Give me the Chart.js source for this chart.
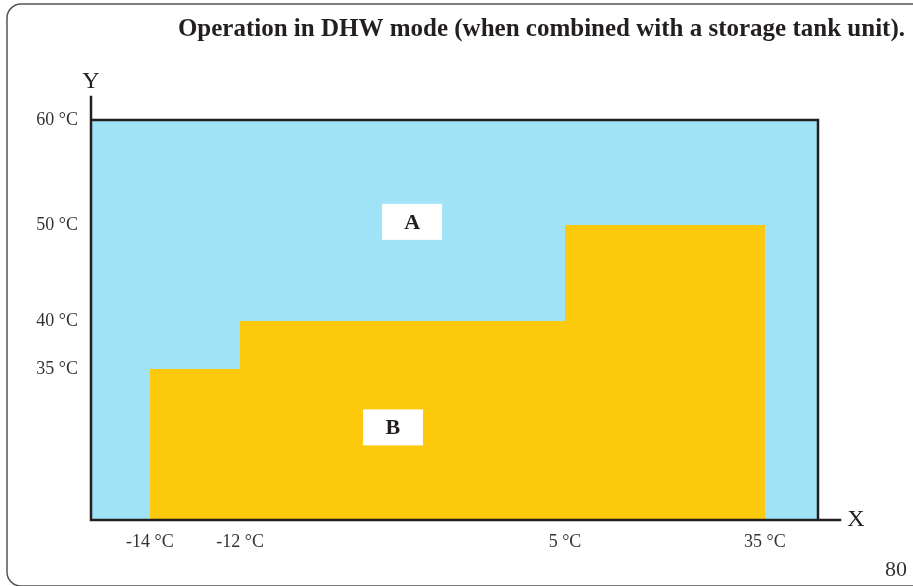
<!DOCTYPE html>
<html>
<head>
<meta charset="utf-8">
<title>Operation in DHW mode</title>
<script src="https://cdn.jsdelivr.net/npm/chart.js@4.4.1/dist/chart.umd.min.js"></script>
<style>
    html, body { margin: 0; padding: 0; background: #fff; }
    #chartDhw { display: block; }
</style>
</head>
<body>
<canvas id="chartDhw" width="913" height="586"></canvas>
<script>
// Dados: temperatura exterior (X) e temperatura da água (Y)
const outdoorTemps = [-14, -12, 5, 35];
const waterTemps = [35, 40, 50, 50];
const xTicks = [-14, -12, 5, 35];
const yTicks = [35, 40, 50, 60];
const xRange = [-16, 40];
const yRange = [20, 60];
// Zona A ocupa todo o campo até 60 °C
const zoneAX = [-16, 40];
const zoneAY = [60, 60];
const zoneNames = ['A', 'B'];

const serif = "'Liberation Serif', 'DejaVu Serif', serif";
const inkColor = '#231f20';

// Escala linear por troços (o eixo do esquema não está à escala)
class PiecewiseScale extends Chart.LinearScale {
    _fraction(value) {
        const stops = this.options.stops;
        if (value <= stops[0][0]) return stops[0][1];
        for (let i = 1; i < stops.length; i++) {
            const [v0, f0] = stops[i - 1];
            const [v1, f1] = stops[i];
            if (value <= v1) return f0 + (value - v0) / (v1 - v0) * (f1 - f0);
        }
        return stops[stops.length - 1][1];
    }
    getPixelForValue(value) {
        const f = this._fraction(value);
        return this.isHorizontal() ? this.left + f * this.width : this.bottom - f * this.height;
    }
    getValueForPixel(pixel) {
        const stops = this.options.stops;
        const f = this.isHorizontal() ? (pixel - this.left) / this.width : (this.bottom - pixel) / this.height;
        for (let i = 1; i < stops.length; i++) {
            const [v0, f0] = stops[i - 1];
            const [v1, f1] = stops[i];
            if (f <= f1) return v0 + (f - f0) / (f1 - f0) * (v1 - v0);
        }
        return stops[stops.length - 1][0];
    }
}
PiecewiseScale.id = 'piecewise';
PiecewiseScale.defaults = Chart.LinearScale.defaults;
Chart.register(PiecewiseScale);

function toPoints(xs, ys) {
    return xs.map((x, i) => ({ x: x, y: ys[i] }));
}

// Moldura, eixos com prolongamento, etiquetas das zonas e número da página
const molduraPlugin = {
    id: 'moldura',
    beforeDraw(chart) {
        const ctx = chart.ctx;
        ctx.save();
        ctx.strokeStyle = '#555';
        ctx.lineWidth = 1.5;
        ctx.beginPath();
        ctx.roundRect(7, 4, 940, 582, 14);
        ctx.stroke();
        ctx.restore();
    },
    afterDatasetsDraw(chart) {
        const { ctx, chartArea: { left, top, right, bottom } } = chart;
        ctx.save();
        ctx.strokeStyle = inkColor;
        ctx.lineWidth = 2.5;
        ctx.lineCap = 'square';
        ctx.beginPath();
        ctx.moveTo(left, top - 23);
        ctx.lineTo(left, bottom);
        ctx.lineTo(right + 22, bottom);
        ctx.moveTo(left, top);
        ctx.lineTo(right, top);
        ctx.lineTo(right, bottom);
        ctx.stroke();
        ctx.restore();
    },
    afterDraw(chart) {
        const { ctx, chartArea: { left, top, right, bottom } } = chart;
        const xs = chart.scales.x;
        const ys = chart.scales.y;
        ctx.save();
        ctx.fillStyle = inkColor;
        ctx.textAlign = 'center';
        ctx.textBaseline = 'middle';
        ctx.font = '24px ' + serif;
        ctx.fillText('Y', left, top - 38);
        ctx.fillText('X', right + 38, bottom);

        // Etiquetas A e B
        const anchors = [[-3, 50.3], [-4, 29.2]];
        zoneNames.forEach((name, i) => {
            const cx = xs.getPixelForValue(anchors[i][0]);
            const cy = ys.getPixelForValue(anchors[i][1]);
            ctx.fillStyle = '#fff';
            ctx.fillRect(cx - 30, cy - 18, 60, 36);
            ctx.fillStyle = inkColor;
            ctx.font = 'bold 22px ' + serif;
            ctx.fillText(name, cx, cy + 1);
        });

        ctx.fillStyle = '#333';
        ctx.font = '22px ' + serif;
        ctx.fillText('80', 896, 570);
        ctx.restore();
    }
};

function initChart() {
    const ctx = document.getElementById('chartDhw').getContext('2d');
    new Chart(ctx, {
        type: 'line',
        data: {
            datasets: [
                {
                    label: 'B',
                    data: toPoints(outdoorTemps, waterTemps),
                    stepped: 'before',
                    borderWidth: 0,
                    borderColor: 'rgba(0,0,0,0)',
                    backgroundColor: '#fdc90d',
                    pointRadius: 0,
                    fill: 'start',
                },
                {
                    label: 'A',
                    data: toPoints(zoneAX, zoneAY),
                    borderWidth: 0,
                    borderColor: 'rgba(0,0,0,0)',
                    backgroundColor: '#a0e3f7',
                    pointRadius: 0,
                    fill: 'start',
                },
            ],
        },
        options: {
            responsive: false,
            animation: false,
            events: [],
            layout: { padding: { top: 0, left: 0, right: 8, bottom: 0 } },
            plugins: {
                legend: { display: false },
                tooltip: { enabled: false },
                title: {
                    display: true,
                    text: 'Operation in DHW mode (when combined with a storage tank unit).',
                    align: 'end',
                    color: inkColor,
                    font: { family: serif, size: 25, weight: 'bold' },
                    padding: { top: 15, bottom: 75 },
                },
            },
            scales: {
                x: {
                    type: 'piecewise',
                    position: 'bottom',
                    min: xRange[0],
                    max: xRange[1],
                    stops: [[-16, 0], [-14, 0.081], [-12, 0.205], [5, 0.652], [35, 0.927], [40, 1]],
                    afterFit(scale) { scale.height = 66; },
                    afterBuildTicks(scale) { scale.ticks = xTicks.map(v => ({ value: v })); },
                    grid: { display: false, drawTicks: false },
                    border: { display: false },
                    ticks: {
                        padding: 11,
                        color: '#333',
                        font: { family: serif, size: 18 },
                        maxRotation: 0,
                        autoSkip: false,
                        callback: (v) => v + ' °C',
                    },
                },
                y: {
                    type: 'piecewise',
                    position: 'left',
                    min: yRange[0],
                    max: yRange[1],
                    stops: [[20, 0], [35, 0.3775], [40, 0.4975], [50, 0.7375], [60, 1]],
                    afterFit(scale) { scale.width = 91; },
                    afterBuildTicks(scale) { scale.ticks = yTicks.map(v => ({ value: v })); },
                    grid: { display: false, drawTicks: false },
                    border: { display: false },
                    ticks: {
                        padding: 13,
                        color: '#333',
                        font: { family: serif, size: 18 },
                        autoSkip: false,
                        callback: (v) => v + ' °C',
                    },
                },
                // eixo vazio só para reservar a margem direita
                yRight: {
                    type: 'linear',
                    position: 'right',
                    afterFit(scale) { scale.width = 87; },
                    grid: { display: false, drawTicks: false },
                    border: { display: false },
                    ticks: { display: false },
                },
            },
        },
        plugins: [molduraPlugin],
    });
}

initChart();
</script>
</body>
</html>
